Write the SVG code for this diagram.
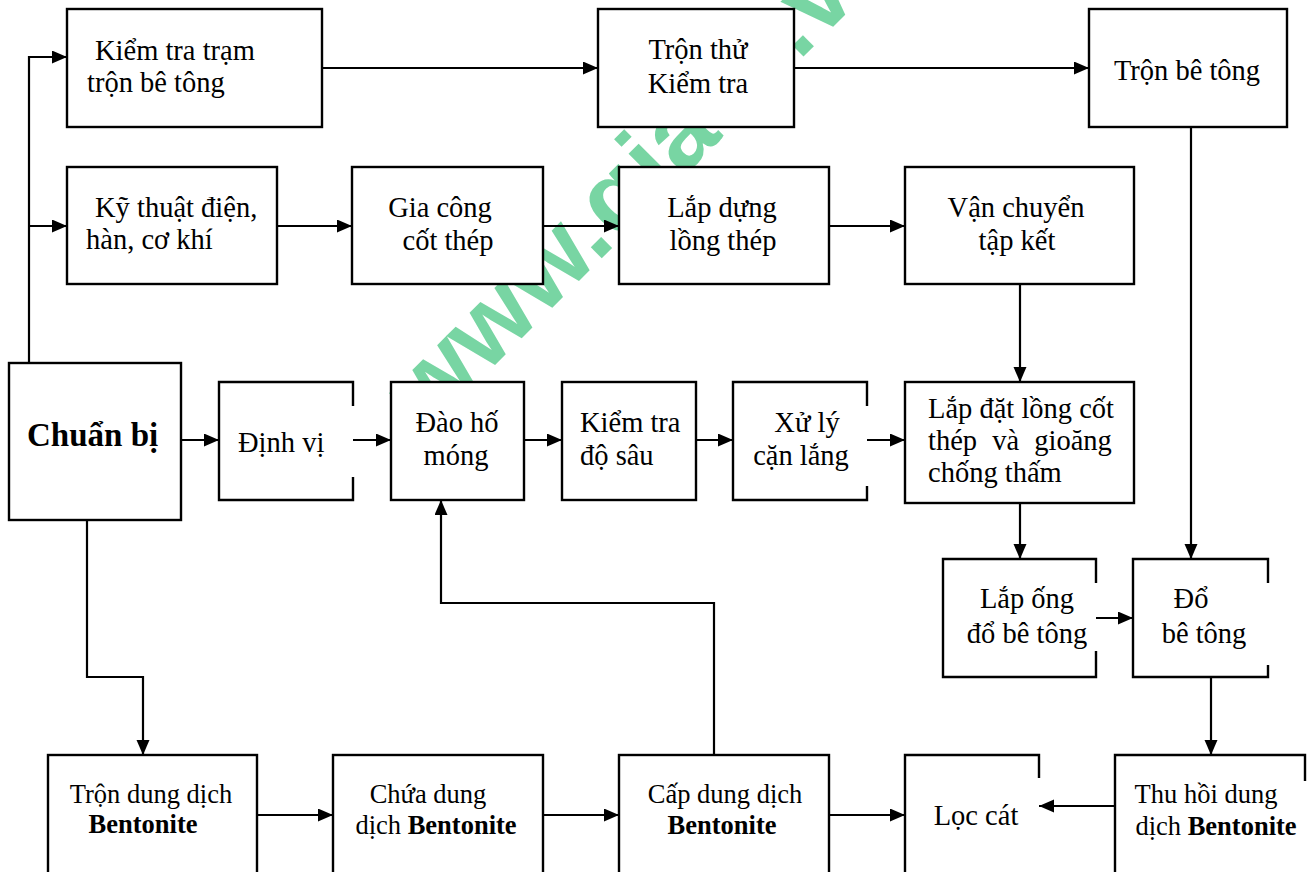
<svg xmlns="http://www.w3.org/2000/svg" width="1311" height="872" viewBox="0 0 1311 872">
<style>
.box{fill:#fff;stroke:#000;stroke-width:2.4}
.bg{fill:#fff;stroke:none}
.edge{fill:none;stroke:#000;stroke-width:2.4}
.t{font-family:"Liberation Serif","Times New Roman",serif;font-size:28.5px;fill:#000}
.s{font-size:26.5px}
.b{font-weight:bold}
.c{text-anchor:middle}
.ln{fill:none;stroke:#000;stroke-width:2.2}
.wm{font-family:"Liberation Sans",Arial,sans-serif;font-weight:bold;font-size:104px;fill:#2fbf71;fill-opacity:0.65}
</style>
<defs>
<marker id="ah" markerUnits="userSpaceOnUse" markerWidth="16" markerHeight="14" refX="15" refY="6.5" orient="auto">
<path d="M0,0 L15,6.5 L0,13 z" fill="#000"/>
</marker>
</defs>
<rect width="1311" height="872" fill="#fff"/>
<g id="watermark">
<text class="wm" transform="translate(428,432) rotate(-45)">www.gia<tspan dx="106">.vn</tspan></text>
</g>
<g id="connectors">
<path class="ln" d="M29,363 V57 H67" marker-end="url(#ah)"/>
<path class="ln" d="M29,226 H67" marker-end="url(#ah)"/>
<path class="ln" d="M322,68 H598" marker-end="url(#ah)"/>
<path class="ln" d="M794,68 H1089" marker-end="url(#ah)"/>
<path class="ln" d="M277,226 H352" marker-end="url(#ah)"/>
<path class="ln" d="M543,226 H619" marker-end="url(#ah)"/>
<path class="ln" d="M829,226 H905" marker-end="url(#ah)"/>
<path class="ln" d="M1020,284 V382" marker-end="url(#ah)"/>
<path class="ln" d="M1191,127 V559" marker-end="url(#ah)"/>
<path class="ln" d="M181,440 H219" marker-end="url(#ah)"/>
<path class="ln" d="M353,440 H391" marker-end="url(#ah)"/>
<path class="ln" d="M524,440 H562" marker-end="url(#ah)"/>
<path class="ln" d="M696,440 H733" marker-end="url(#ah)"/>
<path class="ln" d="M867,440 H905" marker-end="url(#ah)"/>
<path class="ln" d="M1020,503 V559" marker-end="url(#ah)"/>
<path class="ln" d="M1096,618 H1133" marker-end="url(#ah)"/>
<path class="ln" d="M1211,677 V755" marker-end="url(#ah)"/>
<path class="ln" d="M87,520 V677 H143 V755" marker-end="url(#ah)"/>
<path class="ln" d="M714,755 V603 H441 V500" marker-end="url(#ah)"/>
<path class="ln" d="M257,815 H333" marker-end="url(#ah)"/>
<path class="ln" d="M543,815 H619" marker-end="url(#ah)"/>
<path class="ln" d="M829,815 H905" marker-end="url(#ah)"/>
<path class="ln" d="M1115,806 H1039" marker-end="url(#ah)"/>
</g>
<g id="kiem-tra-tram"><rect class="box" x="67" y="9" width="255" height="118"/>
<text class="t" x="95" y="60">Kiểm tra trạm</text><text class="t" x="87" y="92">trộn bê tông</text></g>
<g id="tron-thu"><rect class="box" x="598" y="9" width="196" height="118"/>
<text class="t c" x="698" y="59">Trộn thử</text><text class="t c" x="698" y="93">Kiểm tra</text></g>
<g id="tron-be-tong"><rect class="box" x="1089" y="9" width="198" height="118"/>
<text class="t c" x="1187" y="80">Trộn bê tông</text></g>
<g id="ky-thuat"><rect class="box" x="67" y="167" width="210" height="117"/>
<text class="t" x="95" y="217">Kỹ thuật điện,</text><text class="t" x="86" y="249">hàn, cơ khí</text></g>
<g id="gia-cong"><rect class="box" x="352" y="167" width="191" height="117"/>
<text class="t c" x="440" y="217">Gia công</text><text class="t c" x="448" y="250">cốt thép</text></g>
<g id="lap-dung"><rect class="box" x="619" y="167" width="210" height="117"/>
<text class="t c" x="722" y="217">Lắp dựng</text><text class="t c" x="723" y="250">lồng thép</text></g>
<g id="van-chuyen"><rect class="box" x="905" y="167" width="229" height="117"/>
<text class="t c" x="1016" y="217">Vận chuyển</text><text class="t c" x="1017" y="250">tập kết</text></g>
<g id="chuan-bi"><rect class="box" x="9" y="363" width="172" height="157"/>
<text class="t b" x="27" y="446" style="font-size:33px">Chuẩn bị</text></g>
<g id="dinh-vi"><rect class="bg" x="219" y="382" width="134" height="118"/><path class="edge" d="M353,406 V382 H219 V500 H353 V477"/>
<text class="t" x="238" y="452">Định vị</text></g>
<g id="dao-ho-mong"><rect class="box" x="391" y="382" width="133" height="118"/>
<text class="t c" x="457" y="432">Đào hố</text><text class="t c" x="456" y="465">móng</text></g>
<g id="kiem-tra-do-sau"><rect class="box" x="562" y="382" width="134" height="118"/>
<text class="t" x="580" y="432">Kiểm tra</text><text class="t" x="580" y="465">độ sâu</text></g>
<g id="xu-ly"><rect class="bg" x="733" y="382" width="134" height="118"/><path class="edge" d="M867,406 V382 H733 V500 H867 V486"/>
<text class="t c" x="807" y="432">Xử lý</text><text class="t c" x="801" y="465">cặn lắng</text></g>
<g id="lap-dat"><rect class="box" x="905" y="382" width="229" height="121"/>
<text class="t" x="928" y="418">Lắp đặt lồng cốt</text><text class="t" x="928" y="450" word-spacing="8">thép và gioăng</text><text class="t" x="928" y="482">chống thấm</text></g>
<g id="lap-ong"><rect class="bg" x="943" y="559" width="153" height="118"/><path class="edge" d="M1096,583 V559 H943 V677 H1096 V651"/>
<text class="t c" x="1027" y="608">Lắp ống</text><text class="t c" x="1027" y="643">đổ bê tông</text></g>
<g id="do-be-tong"><rect class="bg" x="1133" y="559" width="135" height="118"/><path class="edge" d="M1268,583 V559 H1133 V677 H1268 V665"/>
<text class="t c" x="1191" y="608">Đổ</text><text class="t c" x="1204" y="643">bê tông</text></g>
<g id="tron-dung-dich"><rect class="box" x="48" y="755" width="209" height="130"/>
<text class="t s c" x="151" y="803">Trộn dung dịch</text><text class="t s b c" x="143" y="833">Bentonite</text></g>
<g id="chua-dung-dich"><rect class="box" x="333" y="755" width="210" height="130"/>
<text class="t s c" x="428" y="803">Chứa dung</text><text class="t s c" x="436" y="834">dịch <tspan class="b">Bentonite</tspan></text></g>
<g id="cap-dung-dich"><rect class="box" x="619" y="755" width="210" height="130"/>
<text class="t s c" x="725" y="803">Cấp dung dịch</text><text class="t s b c" x="722" y="834">Bentonite</text></g>
<g id="loc-cat"><rect class="bg" x="905" y="755" width="134" height="130"/><path class="edge" d="M1039,778 V755 H905 V885"/>
<text class="t c" x="976" y="825">Lọc cát</text></g>
<g id="thu-hoi"><rect class="bg" x="1115" y="755" width="190" height="130"/><path class="edge" d="M1305,781 V755 H1115 V885"/>
<text class="t s c" x="1206" y="803">Thu hồi dung</text><text class="t s c" x="1216" y="835">dịch <tspan class="b">Bentonite</tspan></text></g>
</svg>
